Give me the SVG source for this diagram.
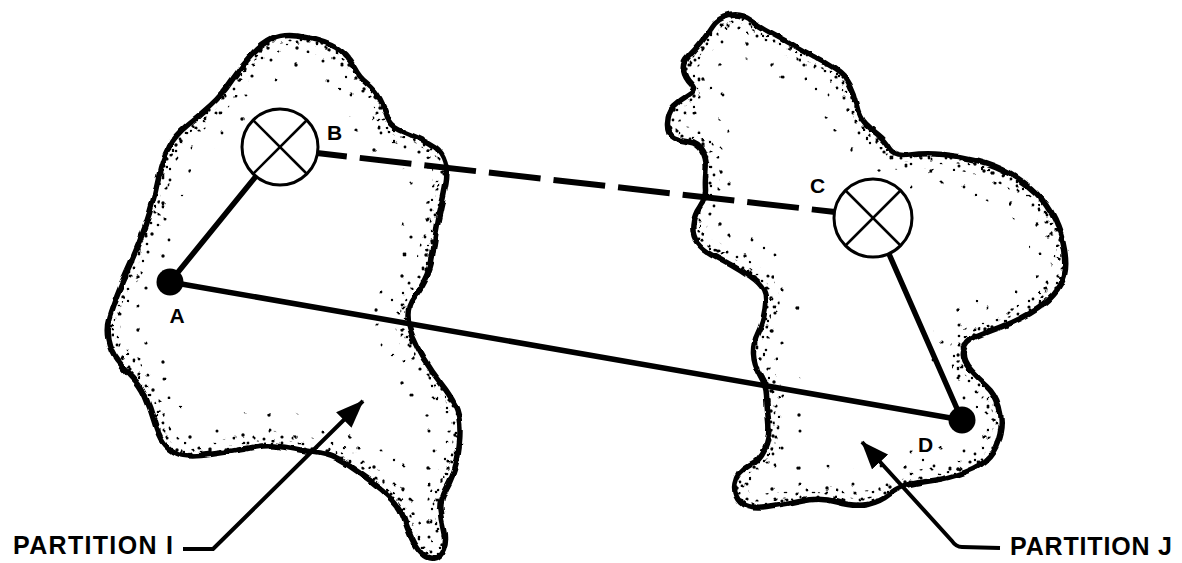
<svg xmlns="http://www.w3.org/2000/svg" width="1182" height="563" viewBox="0 0 1182 563">
<style>
.outline{fill:none;stroke:#000;stroke-width:5.5;stroke-linejoin:round}
.band{fill:none}
.link{stroke:#000;stroke-width:5.5;stroke-linecap:round;fill:none}
.dash{stroke:#000;stroke-width:6;stroke-dasharray:52 13;stroke-dashoffset:22;fill:none}
.lamp{fill:#fff;stroke:#000;stroke-width:3}
.cross{stroke:#000;stroke-width:2.5}
.lbl{font-family:"Liberation Sans",Arial,sans-serif;font-weight:bold;font-size:21px;fill:#000}
.cap{font-family:"Liberation Sans",Arial,sans-serif;font-weight:bold;font-size:25px;fill:#000}
.leader{stroke:#000;stroke-width:4;fill:none;stroke-linejoin:round}
</style>
<defs>
<pattern id="dotsA" patternUnits="userSpaceOnUse" width="53" height="53">
<circle cx="5" cy="7" r="1.5"/><circle cx="31" cy="12" r="1.7"/><circle cx="10" cy="27" r="1.4"/><circle cx="40" cy="24" r="1.6"/><circle cx="4" cy="44" r="1.7"/><circle cx="33" cy="42" r="1.4"/><circle cx="22" cy="36" r="1.2"/>
</pattern>
<pattern id="dotsB" patternUnits="userSpaceOnUse" width="29" height="31">
<circle cx="3" cy="4" r="1.5"/><circle cx="12" cy="9" r="1.3"/><circle cx="22" cy="3" r="1.6"/><circle cx="7" cy="17" r="1.7"/><circle cx="18" cy="20" r="1.4"/><circle cx="26" cy="14" r="1.2"/><circle cx="2" cy="27" r="1.3"/><circle cx="14" cy="28" r="1.6"/><circle cx="25" cy="25" r="1.4"/>
</pattern>
<pattern id="dotsC" patternUnits="userSpaceOnUse" width="17" height="19">
<circle cx="2" cy="3" r="1.6"/><circle cx="10" cy="6" r="1.4"/><circle cx="6" cy="12" r="1.7"/><circle cx="14" cy="15" r="1.3"/><circle cx="3" cy="17" r="1.2"/>
</pattern>
<filter id="rough" x="-5%" y="-5%" width="110%" height="110%">
<feTurbulence type="fractalNoise" baseFrequency="0.06" numOctaves="2" seed="3" result="n"/>
<feDisplacementMap in="SourceGraphic" in2="n" scale="5" xChannelSelector="R" yChannelSelector="G"/>
</filter>
<marker id="arrow" viewBox="0 0 28 22" refX="27" refY="11" markerWidth="28" markerHeight="22" markerUnits="userSpaceOnUse" orient="auto">
<path d="M0,0 L28,11 L0,22 Z" fill="#000"/>
</marker>
<path id="pI" d="M272.5,39 Q283,34 297.5,36 Q312,38 325,42.5 Q338,47 345,54.5 Q352,62 356,70 Q360,78 367.5,84 Q375,90 380,99 Q385,108 387.5,117 Q390,126 399,130 Q408,134 418,138 Q428,142 435,147 Q442,152 445,162 Q448,172 446,183.5 Q444,195 441,207.5 Q438,220 436,232.5 Q434,245 432.5,256.5 Q431,268 425.5,279 Q420,290 414,297.5 Q408,305 408,315 Q408,325 412.5,336 Q417,347 424.5,359.5 Q432,372 441,383.5 Q450,395 455,405 Q460,415 460,431 Q460,447 456.5,462 Q453,477 446.5,488.5 Q440,500 441,510 Q442,520 444.5,530 Q447,540 443.5,549 Q440,558 434,559 Q428,560 422,554 Q416,548 411.5,538 Q407,528 403.5,517.5 Q400,507 391.5,498.5 Q383,490 371.5,481.5 Q360,473 346.5,464 Q333,455 319,453 Q305,451 295,449 Q285,447 275,446 Q265,445 255,447 Q245,449 230,451.5 Q215,454 200,455.5 Q185,457 176.5,453.5 Q168,450 163,442.5 Q158,435 154,421 Q150,407 145,396 Q140,385 132.5,377.5 Q125,370 117.5,360 Q110,350 108,339 Q106,328 109,318 Q112,308 117,295 Q122,282 127.5,270 Q133,258 139,243 Q145,228 150,211.5 Q155,195 158.5,177.5 Q162,160 168.5,147.5 Q175,135 187.5,125 Q200,115 211,105 Q222,95 231,81.5 Q240,68 251,56 Q262,44 272.5,39 Z"/>
<path id="pJ" d="M729,15.5 Q740,13 751,20.5 Q762,28 773.5,34 Q785,40 795,46 Q805,52 815,57 Q825,62 835,68.5 Q845,75 850,85 Q855,95 857.5,106.5 Q860,118 866,124 Q872,130 878.5,135 Q885,140 890,148.5 Q895,157 910,155 Q925,153 942.5,154.5 Q960,156 977.5,160.5 Q995,165 1010,173.5 Q1025,182 1036.5,193.5 Q1048,205 1055,220 Q1062,235 1064.5,250 Q1067,265 1064.5,275 Q1062,285 1053.5,295 Q1045,305 1030,313.5 Q1015,322 1000,327.5 Q985,333 975,337.5 Q965,342 963.5,351 Q962,360 970,369 Q978,378 986.5,385.5 Q995,393 999,406.5 Q1003,420 1000,434 Q997,448 989.5,457 Q982,466 966,472 Q950,478 932.5,480.5 Q915,483 906,485.5 Q897,488 888.5,495 Q880,502 867.5,504.5 Q855,507 837.5,502 Q820,497 802.5,501 Q785,505 766.5,507.5 Q748,510 740.5,502.5 Q733,495 735,483.5 Q737,472 748.5,466 Q760,460 765,448.5 Q770,437 768.5,421 Q767,405 766.5,395 Q766,385 760,375 Q754,365 753.5,354 Q753,343 758,333 Q763,323 765,310 Q767,297 763.5,290.5 Q760,284 750,277 Q740,270 731,265 Q722,260 712.5,255 Q703,250 697.5,242.5 Q692,235 693,225 Q694,215 700,206.5 Q706,198 705.5,189 Q705,180 706,170 Q707,160 702.5,151.5 Q698,143 689,142 Q680,141 673.5,138 Q667,135 667.5,123.5 Q668,112 674,106 Q680,100 688.5,95 Q697,90 691,84 Q685,78 683.5,70.5 Q682,63 688.5,56.5 Q695,50 701,42.5 Q707,35 712.5,26.5 Q718,18 729,15.5 Z"/>
<clipPath id="clipI"><use href="#pI"/></clipPath>
<clipPath id="clipJ"><use href="#pJ"/></clipPath>
</defs>
<rect width="1182" height="563" fill="#fff"/>

<g id="partition-i" filter="url(#rough)">
<use href="#pI" fill="#fff"/>
<g clip-path="url(#clipI)">
<use href="#pI" class="band" stroke="url(#dotsA)" stroke-width="70"/>
<use href="#pI" class="band" stroke="url(#dotsB)" stroke-width="28"/>
<use href="#pI" class="band" stroke="url(#dotsC)" stroke-width="14"/>
</g>
<use href="#pI" class="outline"/>
</g>

<g id="partition-j" filter="url(#rough)">
<use href="#pJ" fill="#fff"/>
<g clip-path="url(#clipJ)">
<use href="#pJ" class="band" stroke="url(#dotsA)" stroke-width="70"/>
<use href="#pJ" class="band" stroke="url(#dotsB)" stroke-width="28"/>
<use href="#pJ" class="band" stroke="url(#dotsC)" stroke-width="14"/>
</g>
<use href="#pJ" class="outline"/>
</g>

<g id="connectors">
<line class="dash" x1="317" y1="153" x2="835" y2="212"/>
<line class="link" x1="170" y1="282" x2="257" y2="175"/>
<line class="link" x1="170" y1="282" x2="962" y2="420"/>
<line class="link" x1="889" y1="254" x2="962" y2="420"/>
<path class="leader" d="M183,549 L213,549 L363,401" marker-end="url(#arrow)"/>
<path class="leader" d="M1000,548 L962,547 Q956,547 952,541 L862,442" marker-end="url(#arrow)"/>
</g>

<g id="node-a">
<circle cx="170" cy="282" r="13.5" fill="#000"/>
<text class="lbl" x="177" y="323" text-anchor="middle">A</text>
</g>
<g id="node-b">
<circle class="lamp" cx="280" cy="147" r="38"/>
<line class="cross" x1="253" y1="120" x2="307" y2="174"/>
<line class="cross" x1="307" y1="120" x2="253" y2="174"/>
<text class="lbl" x="327" y="140">B</text>
</g>
<g id="node-c">
<circle class="lamp" cx="873" cy="218" r="39"/>
<line class="cross" x1="845.5" y1="190.5" x2="900.5" y2="245.5"/>
<line class="cross" x1="900.5" y1="190.5" x2="845.5" y2="245.5"/>
<text class="lbl" x="810" y="193">C</text>
</g>
<g id="node-d">
<circle cx="962" cy="420" r="13.5" fill="#000"/>
<text class="lbl" x="918" y="452">D</text>
</g>
<g id="label-i">
<text class="cap" x="13" y="554" textLength="160" lengthAdjust="spacing">PARTITION I</text>
</g>
<g id="label-j">
<text class="cap" x="1010" y="555" textLength="162" lengthAdjust="spacing">PARTITION J</text>
</g>
</svg>
